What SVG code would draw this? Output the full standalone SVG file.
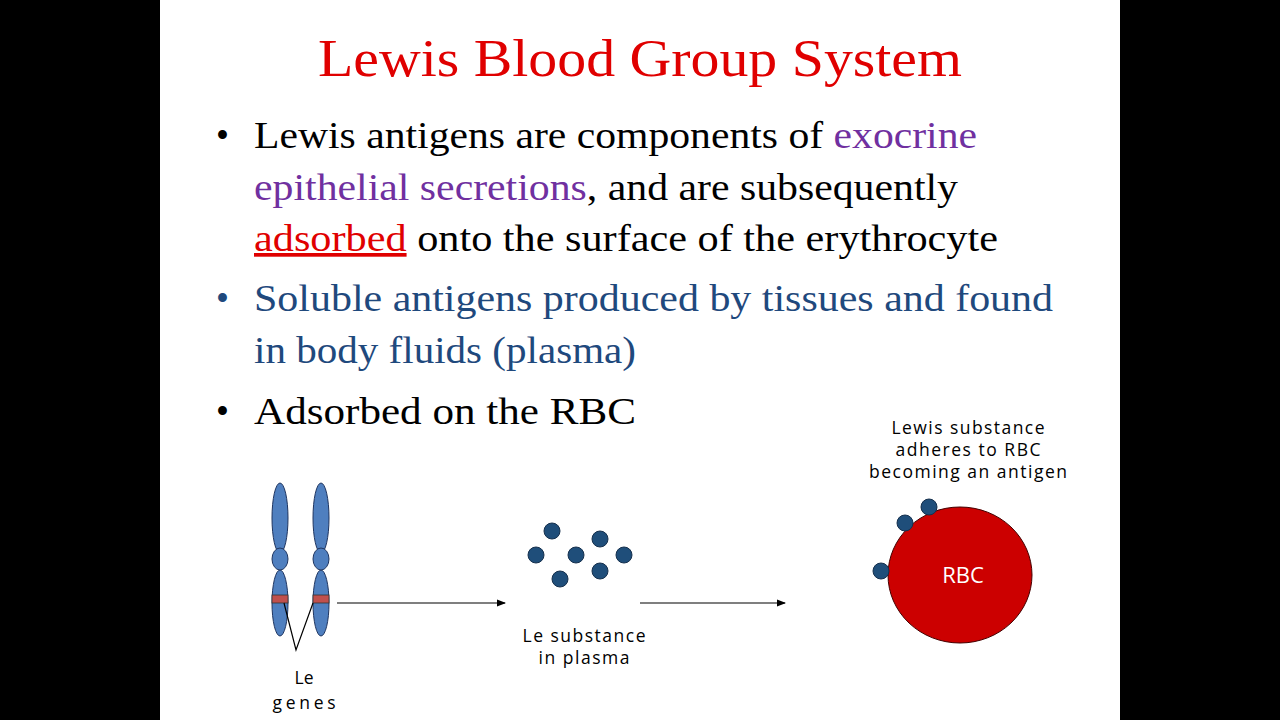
<svg xmlns="http://www.w3.org/2000/svg" width="1280" height="720" viewBox="0 0 1280 720">
<style>
.b{font-family:"Liberation Serif",serif;font-size:37px}
.k{fill:#000}.p{fill:#7030a0}.r{fill:#e00000}.u{fill:#1f497d}
.s{font-family:"Open Sans","DejaVu Sans",sans-serif;font-size:17.5px;fill:#000;text-anchor:middle}
.chr{fill:#4f7fbf;stroke:#1f3560;stroke-width:1}
.dot{fill:#1f4e7a;stroke:#16304d;stroke-width:1}
.ln{stroke:#000;stroke-width:1.2;fill:none}
</style>
<defs><marker id="a" markerWidth="8" markerHeight="8" refX="7" refY="4" orient="auto"><path d="M0,1 L8,4 L0,7z" fill="#000"/></marker></defs>
<rect width="1280" height="720" fill="#000"/>
<rect x="160" y="0" width="960" height="720" fill="#fff"/>
<text x="318" y="76" font-family="Liberation Serif,serif" font-size="52" fill="#e00000" textLength="644" lengthAdjust="spacingAndGlyphs">Lewis Blood Group System</text>
<text class="b k" x="216" y="148">•</text>
<text class="b k" x="254" y="148" textLength="723" lengthAdjust="spacingAndGlyphs">Lewis antigens are components of <tspan class="p">exocrine</tspan></text>
<text class="b p" x="254" y="200" textLength="704" lengthAdjust="spacingAndGlyphs">epithelial secretions<tspan class="k">, and are subsequently</tspan></text>
<text class="b k" x="254" y="251" textLength="744" lengthAdjust="spacingAndGlyphs"><tspan class="r" text-decoration="underline">adsorbed</tspan> onto the surface of the erythrocyte</text>
<text class="b u" x="216" y="311">•</text>
<text class="b u" x="254" y="311" textLength="799" lengthAdjust="spacingAndGlyphs">Soluble antigens produced by tissues and found</text>
<text class="b u" x="254" y="363" textLength="382" lengthAdjust="spacingAndGlyphs">in body fluids (plasma)</text>
<text class="b k" x="216" y="424">•</text>
<text class="b k" x="254" y="424" textLength="382" lengthAdjust="spacingAndGlyphs">Adsorbed on the RBC</text>
<g id="chromosomes">
<ellipse class="chr" cx="280" cy="518" rx="8" ry="35"/>
<ellipse class="chr" cx="280" cy="603" rx="8" ry="33"/>
<ellipse class="chr" cx="280" cy="559" rx="8" ry="11"/>
<rect x="272" y="595" width="16" height="8" fill="#c0504d" stroke="#333" stroke-width="0.8"/>
<ellipse class="chr" cx="321" cy="518" rx="8" ry="35"/>
<ellipse class="chr" cx="321" cy="603" rx="8" ry="33"/>
<ellipse class="chr" cx="321" cy="559" rx="8" ry="11"/>
<rect x="313" y="595" width="16" height="8" fill="#c0504d" stroke="#333" stroke-width="0.8"/>
<text class="s" x="304" y="684">Le</text>
<text class="s" x="304" y="709" textLength="63">genes</text>
</g>
<g id="plasma">
<circle class="dot" cx="552" cy="531" r="8"/><circle class="dot" cx="600" cy="539" r="8"/>
<circle class="dot" cx="536" cy="555" r="8"/><circle class="dot" cx="576" cy="555" r="8"/>
<circle class="dot" cx="624" cy="555" r="8"/><circle class="dot" cx="560" cy="579" r="8"/>
<circle class="dot" cx="600" cy="571" r="8"/>
<text class="s" x="584" y="642" textLength="123">Le substance</text>
<text class="s" x="584" y="664" textLength="91">in plasma</text>
</g>
<g id="rbc">
<ellipse cx="960" cy="575" rx="72" ry="68" fill="#cc0000" stroke="#400" stroke-width="1"/>
<circle class="dot" cx="929" cy="507" r="8"/><circle class="dot" cx="905" cy="523" r="8"/><circle class="dot" cx="881" cy="571" r="8"/>
<text x="963" y="583" font-family="Open Sans,DejaVu Sans,sans-serif" font-size="22" fill="#fff" text-anchor="middle">RBC</text>
<text class="s" x="968" y="434" textLength="153">Lewis substance</text>
<text class="s" x="968" y="456" textLength="145">adheres to RBC</text>
<text class="s" x="968" y="478" textLength="198">becoming an antigen</text>
</g>
<g id="connectors">
<path class="ln" d="M284,603 L296,650 L313,603"/>
<line class="ln" x1="337" y1="603" x2="505" y2="603" marker-end="url(#a)"/>
<line class="ln" x1="640" y1="603" x2="785" y2="603" marker-end="url(#a)"/>
</g>
</svg>
